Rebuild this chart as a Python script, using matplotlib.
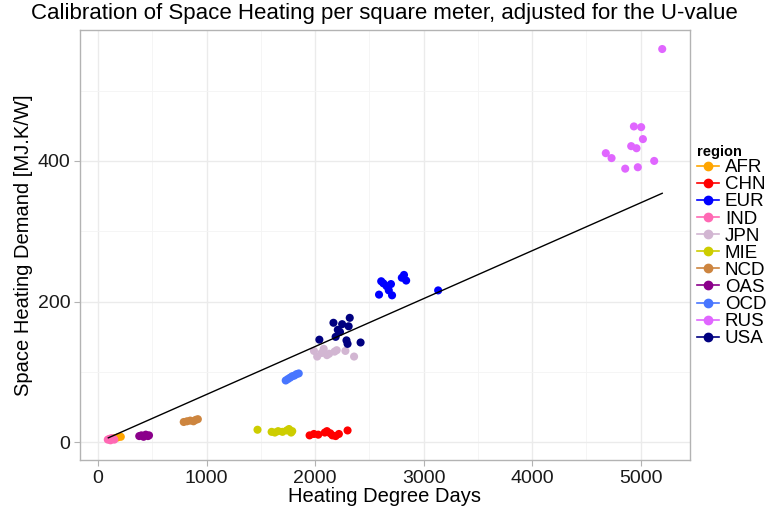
import matplotlib.pyplot as plt
from matplotlib.lines import Line2D

plt.rcParams['font.family'] = ['Liberation Sans', 'DejaVu Sans']

# heating degree days / space heating demand per region
regions = ['AFR', 'CHN', 'EUR', 'IND', 'JPN', 'MIE', 'NCD', 'OAS', 'OCD', 'RUS', 'USA']
colors = ['#FFA500', '#FF0000', '#0000FF', '#FF69B4', '#D2B6D2', '#CDCD00',
          '#CD853F', '#8B008B', '#4876FF', '#E066FF', '#000080']

hdd = {
    'AFR': [150, 180, 210],
    'CHN': [1950, 1990, 2030, 2090, 2110, 2140, 2160, 2190, 2220, 2300],
    'EUR': [2590, 2610, 2630, 2660, 2680, 2700, 2710, 2800, 2820, 2840, 3135],
    'IND': [90, 105, 115, 125, 140, 150],
    'JPN': [1990, 2020, 2060, 2080, 2110, 2130, 2180, 2200, 2280, 2360],
    'MIE': [1470, 1600, 1630, 1660, 1700, 1740, 1760, 1780, 1790],
    'NCD': [790, 820, 850, 880, 900, 920],
    'OAS': [380, 400, 420, 440, 460, 470],
    'OCD': [1730, 1750, 1770, 1790, 1810, 1830, 1850],
    'RUS': [4680, 4733, 4859, 4914, 4939, 4963, 4975, 5006, 5022, 5126, 5200],
    'USA': [2040, 2170, 2190, 2210, 2230, 2250, 2290, 2300, 2310, 2320, 2420],
}
demand = {
    'AFR': [6, 7, 8],
    'CHN': [10, 12, 11, 14, 16, 13, 10, 9, 12, 17],
    'EUR': [210, 229, 226, 222, 216, 225, 209, 234, 238, 230, 216],
    'IND': [4, 5, 3, 6, 5, 4],
    'JPN': [130, 122, 127, 133, 124, 126, 129, 131, 130, 122],
    'MIE': [18, 15, 14, 16, 15, 17, 19, 14, 16],
    'NCD': [29, 30, 31, 30, 32, 33],
    'OAS': [9, 10, 8, 11, 9, 10],
    'OCD': [88, 90, 92, 94, 95, 97, 98],
    'RUS': [411, 404, 389, 421, 449, 418, 391, 448, 431, 400, 559],
    'USA': [146, 170, 150, 160, 157, 168, 145, 140, 165, 177, 142],
}

# fitted calibration line
fit_x = [95, 5200]
fit_y = [6.5, 354]

fig = plt.figure(figsize=(7.7, 5.15), dpi=100)
ax = fig.add_axes([0.1039, 0.1068, 0.7922, 0.8349])

for r, c in zip(regions, colors):
    ax.scatter(hdd[r], demand[r], s=34, color=c, edgecolors='none', zorder=3)
ax.plot(fit_x, fit_y, color='black', lw=1.0, zorder=4)

ax.set_xlim(-166, 5456)
ax.set_ylim(-25, 586)
ax.set_xticks([0, 1000, 2000, 3000, 4000, 5000])
ax.set_yticks([0, 200, 400])
ax.set_xticks([500, 1500, 2500, 3500, 4500], minor=True)
ax.set_yticks([100, 300, 500], minor=True)
ax.grid(which='major', color='#EBEBEB', lw=1.0)
ax.grid(which='minor', color='#F4F4F4', lw=0.6)
ax.set_axisbelow(True)
for s in ax.spines.values():
    s.set_color('#B3B3B3')
    s.set_linewidth(1.0)
ax.tick_params(which='major', length=4, color='#B3B3B3', labelsize=14,
               labelcolor='#1a1a1a', pad=3)
ax.tick_params(which='minor', length=0)

ax.set_xlabel('Heating Degree Days', fontsize=14.5, labelpad=0)
ax.set_ylabel('Space Heating Demand [MJ.K/W]', fontsize=14.5, labelpad=3)
fig.text(0.499, 0.973, 'Calibration of Space Heating per square meter, adjusted for the U-value',
         ha='center', va='center', fontsize=16)

handles = [Line2D([], [], color=c, marker='o', markersize=6, lw=1.2) for c in colors]
leg = fig.legend(handles, regions, loc='upper left', bbox_to_anchor=(0.895, 0.733),
                 frameon=False, fontsize=13.5, title='region', handlelength=1.2,
                 handletextpad=0.3, labelspacing=0.0, borderaxespad=0)
leg.get_title().set_fontweight('bold')
leg.get_title().set_fontsize(10.5)
leg._legend_box.align = 'left'

fig.savefig('out.png', dpi=100)
